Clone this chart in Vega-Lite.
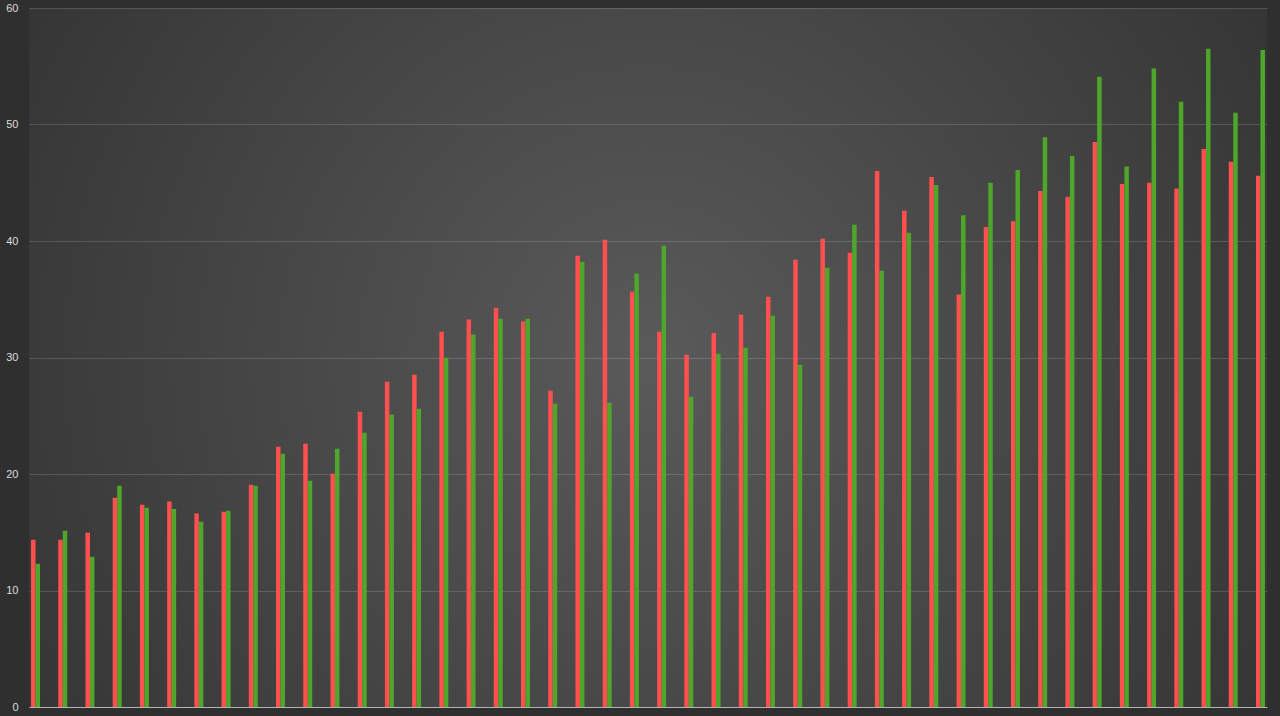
{
  "$schema": "https://vega.github.io/schema/vega-lite/v6.json",
  "width": 1238,
  "height": 699,
  "autosize": {"type": "none"},
  "padding": {"left": 29, "top": 8, "right": 13, "bottom": 9},
  "background": "#2f2f2f",
  "view": {
    "stroke": null,
    "fill": {
      "gradient": "radial",
      "x1": 0.5, "y1": 0.5, "r1": 0,
      "x2": 0.5, "y2": 0.5, "r2": 0.72,
      "stops": [
        {"offset": 0, "color": "#5a5a5a"},
        {"offset": 1, "color": "#2c2c2c"}
      ]
    }
  },
  "data": {
    "values": [
      {"g": 1, "s": "a", "v": 14.36}, {"g": 1, "s": "b", "v": 12.3},
      {"g": 2, "s": "a", "v": 14.36}, {"g": 2, "s": "b", "v": 15.13},
      {"g": 3, "s": "a", "v": 14.96}, {"g": 3, "s": "b", "v": 12.9},
      {"g": 4, "s": "a", "v": 17.97}, {"g": 4, "s": "b", "v": 19.0},
      {"g": 5, "s": "a", "v": 17.37}, {"g": 5, "s": "b", "v": 17.1},
      {"g": 6, "s": "a", "v": 17.63}, {"g": 6, "s": "b", "v": 17.0},
      {"g": 7, "s": "a", "v": 16.6}, {"g": 7, "s": "b", "v": 15.9},
      {"g": 8, "s": "a", "v": 16.77}, {"g": 8, "s": "b", "v": 16.85},
      {"g": 9, "s": "a", "v": 19.08}, {"g": 9, "s": "b", "v": 19.0},
      {"g": 10, "s": "a", "v": 22.34}, {"g": 10, "s": "b", "v": 21.74},
      {"g": 11, "s": "a", "v": 22.6}, {"g": 11, "s": "b", "v": 19.43},
      {"g": 12, "s": "a", "v": 20.03}, {"g": 12, "s": "b", "v": 22.17},
      {"g": 13, "s": "a", "v": 25.35}, {"g": 13, "s": "b", "v": 23.55},
      {"g": 14, "s": "a", "v": 27.92}, {"g": 14, "s": "b", "v": 25.1},
      {"g": 15, "s": "a", "v": 28.52}, {"g": 15, "s": "b", "v": 25.6},
      {"g": 16, "s": "a", "v": 32.2}, {"g": 16, "s": "b", "v": 29.98},
      {"g": 17, "s": "a", "v": 33.26}, {"g": 17, "s": "b", "v": 31.97},
      {"g": 18, "s": "a", "v": 34.27}, {"g": 18, "s": "b", "v": 33.33},
      {"g": 19, "s": "a", "v": 33.1}, {"g": 19, "s": "b", "v": 33.33},
      {"g": 20, "s": "a", "v": 27.15}, {"g": 20, "s": "b", "v": 26.03},
      {"g": 21, "s": "a", "v": 38.74}, {"g": 21, "s": "b", "v": 38.22},
      {"g": 22, "s": "a", "v": 40.1}, {"g": 22, "s": "b", "v": 26.12},
      {"g": 23, "s": "a", "v": 35.65}, {"g": 23, "s": "b", "v": 37.2},
      {"g": 24, "s": "a", "v": 32.2}, {"g": 24, "s": "b", "v": 39.6},
      {"g": 25, "s": "a", "v": 30.24}, {"g": 25, "s": "b", "v": 26.63},
      {"g": 26, "s": "a", "v": 32.1}, {"g": 26, "s": "b", "v": 30.33},
      {"g": 27, "s": "a", "v": 33.67}, {"g": 27, "s": "b", "v": 30.84},
      {"g": 28, "s": "a", "v": 35.22}, {"g": 28, "s": "b", "v": 33.58},
      {"g": 29, "s": "a", "v": 38.4}, {"g": 29, "s": "b", "v": 29.38},
      {"g": 30, "s": "a", "v": 40.2}, {"g": 30, "s": "b", "v": 37.7},
      {"g": 31, "s": "a", "v": 39.0}, {"g": 31, "s": "b", "v": 41.4},
      {"g": 32, "s": "a", "v": 46.0}, {"g": 32, "s": "b", "v": 37.45},
      {"g": 33, "s": "a", "v": 42.6}, {"g": 33, "s": "b", "v": 40.7},
      {"g": 34, "s": "a", "v": 45.5}, {"g": 34, "s": "b", "v": 44.8},
      {"g": 35, "s": "a", "v": 35.4}, {"g": 35, "s": "b", "v": 42.2},
      {"g": 36, "s": "a", "v": 41.2}, {"g": 36, "s": "b", "v": 45.0},
      {"g": 37, "s": "a", "v": 41.7}, {"g": 37, "s": "b", "v": 46.1},
      {"g": 38, "s": "a", "v": 44.3}, {"g": 38, "s": "b", "v": 48.9},
      {"g": 39, "s": "a", "v": 43.8}, {"g": 39, "s": "b", "v": 47.3},
      {"g": 40, "s": "a", "v": 48.5}, {"g": 40, "s": "b", "v": 54.1},
      {"g": 41, "s": "a", "v": 44.9}, {"g": 41, "s": "b", "v": 46.4},
      {"g": 42, "s": "a", "v": 45.0}, {"g": 42, "s": "b", "v": 54.8},
      {"g": 43, "s": "a", "v": 44.5}, {"g": 43, "s": "b", "v": 51.95},
      {"g": 44, "s": "a", "v": 47.9}, {"g": 44, "s": "b", "v": 56.5},
      {"g": 45, "s": "a", "v": 46.8}, {"g": 45, "s": "b", "v": 51.0},
      {"g": 46, "s": "a", "v": 45.6}, {"g": 46, "s": "b", "v": 56.4}
    ]
  },
  "mark": {"type": "bar"},
  "encoding": {
    "x": {
      "field": "g",
      "type": "ordinal",
      "scale": {"paddingInner": 0.67, "paddingOuter": 0.075},
      "axis": {
        "labels": false,
        "ticks": false,
        "title": null,
        "grid": false,
        "domain": true,
        "domainColor": "#b4b4b4",
        "domainWidth": 1
      }
    },
    "xOffset": {"field": "s"},
    "y": {
      "field": "v",
      "type": "quantitative",
      "scale": {"domain": [0, 60], "nice": false},
      "axis": {
        "values": [0, 10, 20, 30, 40, 50, 60],
        "title": null,
        "grid": true,
        "gridColor": "#ffffff",
        "gridOpacity": 0.15,
        "domain": false,
        "ticks": false,
        "tickSize": 0,
        "labelPadding": 11,
        "labelColor": "#dddddd",
        "labelFontSize": 11,
        "labelFont": "Liberation Sans"
      }
    },
    "color": {
      "field": "s",
      "type": "nominal",
      "scale": {"domain": ["a", "b"], "range": ["#ff4f4f", "#4ea62a"]},
      "legend": null
    }
  }
}
